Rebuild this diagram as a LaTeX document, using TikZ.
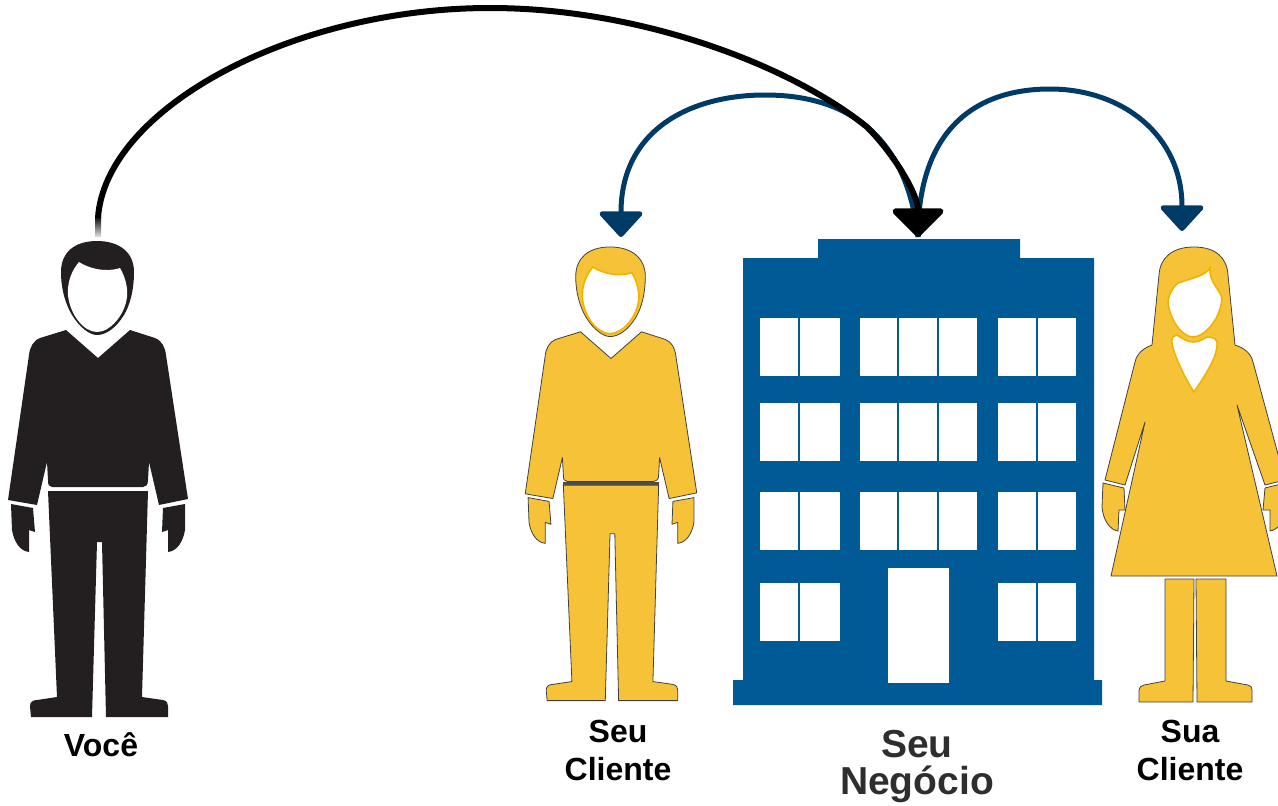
\documentclass[tikz,border=0pt]{standalone}
\usepackage{fontspec}
\setmainfont{Liberation Sans}
\usetikzlibrary{arrows.meta}
\definecolor{suit}{HTML}{231F20}
\definecolor{gold}{HTML}{F6C338}
\definecolor{goldedge}{HTML}{F0B400}
\definecolor{tower}{HTML}{005A96}
\definecolor{navy}{HTML}{003A66}
\tikzset{
  cloth/.style={fill=gold, draw=black!75, line width=0.8pt, line join=round},
  skin/.style={fill=white, draw=goldedge, line width=1.6pt},
  pane/.style={fill=white},
  label/.style={font=\bfseries\fontsize{32}{38}\selectfont, align=center, text=black},
  bluearc/.style={draw=navy, line width=5pt, -{Triangle[width=48pt, length=27pt, round]}},
  blackarc/.style={draw=black, line width=6pt, -{Triangle[width=58pt, length=30pt, round]}}
}
\newcommand{\manshape}{
  \path[cloth] (97,241) .. controls (75,241) and (61,252) .. (61,272) .. controls (61,290) and (66,305) .. (72,315) .. controls (80,328) and (90,335) .. (97,335) .. controls (106,335) and (116,328) .. (124,315) .. controls (130,305) and (134,290) .. (134,272) .. controls (134,252) and (119,241) .. (97,241) -- cycle;
  \path[skin] (79,262) .. controls (88,268) and (105,273) .. (120,268) .. controls (126,278) and (128,290) .. (127,297) .. controls (125,315) and (110,332) .. (97,332) .. controls (84,332) and (70,315) .. (68,295) .. controls (67,282) and (72,270) .. (79,262) -- cycle;
  \path[cloth] (66,330) -- (98,358) -- (130,330) -- (155,338) .. controls (162,341) and (165,347) .. (166,355) -- (188,499) -- (159,505) -- (149,462) -- (148,480) .. controls (148,485) and (146,487) .. (143,487) -- (52,487) .. controls (49,487) and (48,485) .. (48,480) -- (47,462) -- (37,505) -- (8,500) -- (29,355) .. controls (30,347) and (33,341) .. (40,338) -- cycle;
  \path[cloth] (48,491) -- (148,491) -- (142,697) -- (163,700) .. controls (167,701) and (168,703) .. (168,706) -- (168,717) -- (106,717) -- (102,542) -- (97,542) -- (92,717) -- (31,717) -- (30,706) .. controls (30,702) and (33,700) .. (37,700) -- (57,697) -- cycle;
  \path[cloth] (11,504) -- (33,508) -- (35,532) -- (29,530) -- (29,552) .. controls (20,551) and (14,542) .. (12,530) -- cycle;
  \path[cloth] (185,504) -- (163,508) -- (162,532) -- (168,530) -- (168,552) .. controls (177,551) and (183,542) .. (185,530) -- cycle;
}
\begin{document}
\begin{tikzpicture}[x=1pt, y=-1pt]
\useasboundingbox (0,0) rectangle (1278,806);

\begin{scope}[cloth/.style={fill=suit}, skin/.style={fill=white}]
\manshape
\end{scope}
\begin{scope}[shift={(517.6,17.3)}, scale=0.953]
\manshape
\draw[black!70, line width=3pt] (48,489) -- (148,489);
\end{scope}

\path[cloth] (1194,247) .. controls (1172,247) and (1160,258) .. (1159,275) -- (1152,345) .. controls (1144,348) and (1137,353) .. (1135,362) -- (1105,480) -- (1125,485) -- (1145,422) -- (1111,576) -- (1277,576) -- (1237,405) -- (1265,485) -- (1285,480) -- (1253,362) .. controls (1251,353) and (1244,348) .. (1235,345) -- (1228,275) .. controls (1227,258) and (1216,247) .. (1194,247) -- cycle;
\path[skin] (1210,268) .. controls (1205,276) and (1192,278) .. (1178,283) .. controls (1172,288) and (1168,296) .. (1168,303) .. controls (1170,320) and (1182,337) .. (1193,337) .. controls (1205,337) and (1221,318) .. (1222,298) .. controls (1219,288) and (1209,282) .. (1210,268) -- cycle;
\path[skin] (1177,335) .. controls (1173,336) and (1171,338) .. (1172,344) .. controls (1175,358) and (1186,380) .. (1194,392) .. controls (1202,380) and (1216,360) .. (1217,346) .. controls (1218,339) and (1214,337) .. (1207,337) .. controls (1202,340) and (1198,342) .. (1193,342) .. controls (1187,342) and (1182,338) .. (1177,335) -- cycle;
\path[cloth] (1103,483) -- (1124,488) -- (1125,510) -- (1119,510) -- (1118,531) .. controls (1110,530) and (1103,520) .. (1102,507) -- cycle;
\path[cloth] (1285,483) -- (1265,488) -- (1263,510) -- (1270,510) -- (1270,531) .. controls (1278,530) and (1285,520) .. (1286,507) -- cycle;
\path[cloth] (1165,579) -- (1194,579) -- (1193,702) -- (1139,702) -- (1139,690) .. controls (1139,687) and (1141,686) .. (1144,685) -- (1165,681) -- cycle;
\path[cloth] (1196,579) -- (1226,579) -- (1226,681) -- (1248,685) .. controls (1251,686) and (1252,687) .. (1252,690) -- (1252,702) -- (1197,702) -- cycle;

\fill[tower] (733,705) -- (733,680) -- (743,680) -- (743,258) -- (818,258) -- (818,239) -- (1020,239) -- (1020,258) -- (1094,258) -- (1094,680) -- (1102,680) -- (1102,705) -- cycle;
\foreach \y in {318,403,492,583} {
  \fill[pane] (760,\y) rectangle (798,\y+58);
  \fill[pane] (800,\y) rectangle (840,\y+58);
  \fill[pane] (998,\y) rectangle (1036,\y+58);
  \fill[pane] (1038,\y) rectangle (1076,\y+58);
}
\foreach \y in {318,403,492} {
  \fill[pane] (860,\y) rectangle (897,\y+58);
  \fill[pane] (899,\y) rectangle (937,\y+58);
  \fill[pane] (939,\y) rectangle (977,\y+58);
}
\fill[pane] (888,568) rectangle (949,683);

\node[label] (you) at (101,745) {Você};
\node[label] (client) at (618,750) {Seu\\Cliente};
\node[label] (lady) at (1190,750) {Sua\\Cliente};
\node[label, font=\bfseries\fontsize{39}{37}\selectfont, text=black!82] (firm) at (917,767) {Seu\\Negócio};

\coordinate (youtop) at (98,218);
\coordinate (firmtop) at (918,237);
\coordinate (clienttop) at (621,237);
\coordinate (ladytop) at (1182,231);

\draw[bluearc] (firmtop) .. controls (905,120) and (830,95) .. (765,95) .. controls (690,95) and (621,130) .. (clienttop);
\draw[bluearc] (firmtop) .. controls (918,130) and (975,89) .. (1050,89) .. controls (1122,89) and (1182,135) .. (ladytop);
\shade[top color=black, bottom color=black!15] (95,216) rectangle (101,236);
\draw[blackarc] (youtop) .. controls (105,110) and (290,8) .. (490,8) .. controls (640,8) and (790,65) .. (867,127) .. controls (895,155) and (918,195) .. (firmtop);
\end{tikzpicture}
\end{document}
